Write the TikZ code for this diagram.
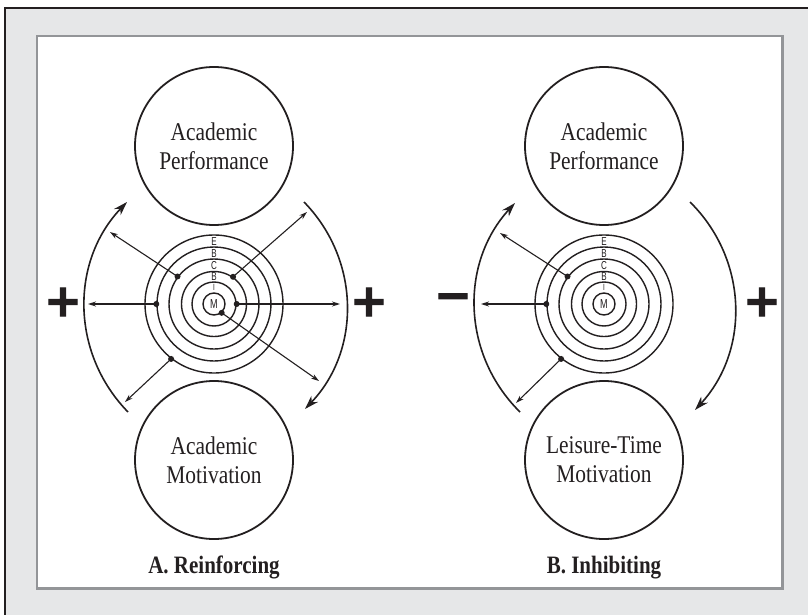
\documentclass[tikz,border=0pt]{standalone}
\usepackage{fontspec}
\setmainfont{Liberation Serif}[FakeStretch=0.84]
\newfontfamily\signfont{DejaVu Sans}[FakeBold=2.5]
\newfontfamily\ringfont{Liberation Sans}[FakeStretch=0.7]
\usetikzlibrary{arrows.meta}
\definecolor{framegray}{HTML}{E6E7E8}
\definecolor{bordergray}{HTML}{939598}
\definecolor{ink}{HTML}{231F20}
\begin{document}
\begin{tikzpicture}[x=1pt,y=-1pt,
  bigcirc/.style={circle, draw=ink, line width=1.8pt, minimum size=158pt, inner sep=0pt,
    align=center, text=ink, font=\fontsize{25.5}{29}\selectfont},
  ring/.style={circle, draw=ink, line width=1.4pt, inner sep=0pt},
  arcarrow/.style={draw=ink, line width=1.6pt, -{Stealth[length=14pt,width=9pt]}},
  ray/.style={draw=ink, line width=1.1pt, -{Stealth[length=8pt,width=5pt]}},
  dot/.style={fill=ink},
  ringlabel/.style={font=\ringfont\fontsize{11.5}{11.5}\selectfont, inner sep=0.4pt, text=ink, fill=white},
  sign/.style={font=\signfont\bfseries\fontsize{45}{45}\selectfont, inner sep=0pt, text=ink},
  caption/.style={font=\bfseries\fontsize{25}{29}\selectfont, inner sep=0pt, text=ink, anchor=base}
]
\useasboundingbox (0,0) rectangle (808,615);
% frame
\fill[framegray] (5,8) rectangle (808,615);
\draw[ink, line width=2pt] (5,615) -- (5,8) -- (808,8);
\draw[bordergray, line width=2.5pt, fill=white] (37,36) rectangle (782.7,588.7);

% ===== A =====
\node[bigcirc] (topA) at (214,146) {Academic\\Performance};
\node[bigcirc] (botA) at (214,460) {Academic\\Motivation};
\foreach \r/\n in {69/a,57/b,45/c,32.5/d,22/e,11/f}
  \node[ring, minimum size={2*\r*1pt}] (A\n) at (214,304) {};
\node[ringlabel] (AlE) at (214,241.5) {E};
\node[ringlabel] (AlB1) at (214,253.5) {B};
\node[ringlabel] (AlC) at (214,265.5) {C};
\node[ringlabel] (AlB2) at (214,277) {B};
\node[ringlabel, font=\ringfont\fontsize{9}{9}\selectfont] (AlI) at (214,287.5) {I};
\node[ringlabel, fill=none, font=\ringfont\fontsize{13}{13}\selectfont] (AlM) at (214,304) {M};

\coordinate (Ad1) at (Ac.143);  \coordinate (Ae1) at (110,232);
\coordinate (Ad2) at (Ad.55);   \coordinate (Ae2) at (307,212);
\coordinate (Ad3) at (Ab.180);  \coordinate (Ae3) at (88,304);
\coordinate (Ad4) at (Ae.0);    \coordinate (Ae4) at (340,304);
\coordinate (Ad5) at (Af.-49);  \coordinate (Ae5) at (319,381);
\coordinate (Ad6) at (Aa.-128); \coordinate (Ae6) at (125,402);
\foreach \i in {1,...,6}{
  \draw[ray] (Ad\i) -- (Ae\i);
  \fill[dot] (Ad\i) circle[radius=3];
}
\coordinate (ALb) at (128,412); \coordinate (ALt) at (127,202);
\draw[arcarrow] (ALb) to[bend left=44] (ALt);
\coordinate (ARt) at (304,202); \coordinate (ARb) at (305,409);
\draw[arcarrow] (ARt) to[bend left=44] (ARb);
\node[sign] (pA1) at (63,302) {+};
\node[sign] (pA2) at (369,302) {+};
\node[caption] (capA) at (214,573) {A. Reinforcing};

% ===== B =====
\node[bigcirc] (topB) at (604,146) {Academic\\Performance};
\node[bigcirc] (botB) at (604,460) {Leisure-Time\\Motivation};
\foreach \r/\n in {69/a,57/b,45/c,32.5/d,22/e,11/f}
  \node[ring, minimum size={2*\r*1pt}] (B\n) at (604,304) {};
\node[ringlabel] (BlE) at (604,241.5) {E};
\node[ringlabel] (BlB1) at (604,253.5) {B};
\node[ringlabel] (BlC) at (604,265.5) {C};
\node[ringlabel] (BlB2) at (604,277) {B};
\node[ringlabel, font=\ringfont\fontsize{9}{9}\selectfont] (BlI) at (604,287.5) {I};
\node[ringlabel, fill=none, font=\ringfont\fontsize{13}{13}\selectfont] (BlM) at (604,304) {M};

\coordinate (Bd1) at (Bc.143);  \coordinate (Be1) at (500,233);
\coordinate (Bd3) at (Bb.180);  \coordinate (Be3) at (481,304);
\coordinate (Bd6) at (Ba.-128); \coordinate (Be6) at (516,403);
\foreach \i in {1,3,6}{
  \draw[ray] (Bd\i) -- (Be\i);
  \fill[dot] (Bd\i) circle[radius=3];
}
\coordinate (BLb) at (520,412); \coordinate (BLt) at (515,203);
\draw[arcarrow] (BLb) to[bend left=44] (BLt);
\coordinate (BRt) at (690,202); \coordinate (BRb) at (695,410);
\draw[arcarrow] (BRt) to[bend left=44] (BRb);
\node[sign] (mB1) at (453,302) {−};
\node[sign] (pB2) at (762,302) {+};
\node[caption] (capB) at (604,573) {B. Inhibiting};
\end{tikzpicture}
\end{document}
